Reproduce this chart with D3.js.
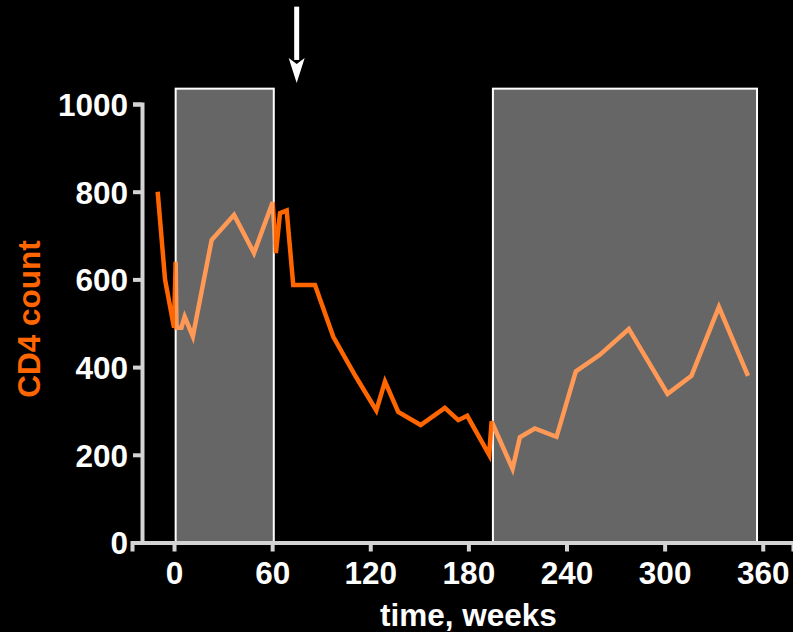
<!DOCTYPE html>
<html>
<head>
<meta charset="utf-8">
<script src="https://cdn.jsdelivr.net/npm/d3@7"></script>
<style>
  html, body { margin: 0; padding: 0; background: #000; }
  svg { display: block; }
  text { font-family: "Liberation Sans", Arial, sans-serif; font-weight: bold; }
</style>
</head>
<body>
<svg id="chart" width="793" height="632"></svg>
<script>
// ---- data ----
const weeks = [-10, -5.5, 0, 1, 1.5, 4.5, 6.5, 11.5, 23, 36.7, 48.9, 60.3, 62.3, 64.8, 68.9, 72.9, 86.2,
  97.4, 111.2, 123.7, 129, 137.1, 150.8, 165.6, 173.8, 179.3, 192.7, 194.2, 207, 211.5, 220.6, 233.9,
  245.7, 260.4, 278.1, 301.8, 316.4, 333.2, 351];
const cd4 = [800, 600, 490, 640, 490, 490, 515, 470, 690, 747, 660, 776, 660, 751, 757, 587, 587,
  469, 378, 301, 367, 298, 268, 307, 279, 289, 200, 276, 168, 240, 260, 241,
  390, 428, 487, 339, 380, 537, 380];
const shadeStart = [1, 195];
const shadeEnd = [61, 356.5];
const shadeTop = 1035;
const xTicks = [0, 60, 120, 180, 240, 300, 360];
const yTicks = [0, 200, 400, 600, 800, 1000];
const arrowWeek = 75, arrowTop = 1222, arrowTip = 1048;
const xTitle = "time, weeks";
const yTitle = "CD4 count";

// ---- colours ----
const DARK = "#ff6600", LIGHT = "#ff9955", AXIS = "#d4d4d4";
const FS = 31.5;

const svg = d3.select("#chart");
const x = d3.scaleLinear().domain([-25.7, 378.5]).range([132, 793]);
const y = d3.scaleLinear().domain([0, 1000]).range([542.5, 104]);

const shades = shadeStart.map((s, i) => ({ s, e: shadeEnd[i] }));
const defs = svg.append("defs");
const clip = defs.append("clipPath").attr("id", "inShade");
clip.selectAll("rect").data(shades).join("rect")
  .attr("x", d => x(d.s)).attr("width", d => x(d.e) - x(d.s))
  .attr("y", y(shadeTop)).attr("height", y(0) - y(shadeTop));
const mask = defs.append("mask").attr("id", "outShade");
mask.append("rect").attr("x", 0).attr("y", 0).attr("width", 793).attr("height", 632).attr("fill", "#fff");
mask.selectAll("rect.s").data(shades).join("rect").attr("class", "s")
  .attr("x", d => x(d.s)).attr("width", d => x(d.e) - x(d.s))
  .attr("y", y(shadeTop)).attr("height", y(0) - y(shadeTop)).attr("fill", "#000");

// shaded periods
svg.append("g").selectAll("rect").data(shades).join("rect")
  .attr("x", d => x(d.s)).attr("width", d => x(d.e) - x(d.s))
  .attr("y", y(shadeTop)).attr("height", y(0) - y(shadeTop))
  .attr("fill", "#666666").attr("stroke", "#fff").attr("stroke-width", 2);

// axes
const xAxis = svg.append("g").attr("transform", `translate(0,${y(0)})`)
  .call(d3.axisBottom(x).tickValues(xTicks).tickSizeOuter(0).tickSize(9).tickPadding(10).tickFormat(d3.format("d")));
xAxis.select(".domain").attr("stroke", AXIS).attr("stroke-width", 4);
xAxis.selectAll(".tick line").attr("stroke", AXIS).attr("stroke-width", 4);
xAxis.selectAll(".tick text").attr("fill", "#fff").attr("font-size", FS).attr("dy", "0.71em");

const yAxis = svg.append("g").attr("transform", `translate(142,0)`)
  .call(d3.axisLeft(y).tickValues(yTicks).tickSizeOuter(0).tickSize(9).tickPadding(5).tickFormat(d3.format("d")));
yAxis.select(".domain").attr("stroke", AXIS).attr("stroke-width", 4);
yAxis.selectAll(".tick line").attr("stroke", AXIS).attr("stroke-width", 4);
yAxis.selectAll(".tick text").attr("fill", "#fff").attr("font-size", FS).attr("dy", "0.36em");

// line
const pts = weeks.map((w, i) => [w, cd4[i]]);
const line = d3.line().x(d => x(d[0])).y(d => y(d[1]));
svg.append("path").datum(pts).attr("d", line).attr("fill", "none")
  .attr("stroke", DARK).attr("stroke-width", 4.5).attr("stroke-linejoin", "miter").attr("mask", "url(#outShade)");
svg.append("path").datum(pts).attr("d", line).attr("fill", "none")
  .attr("stroke", LIGHT).attr("stroke-width", 4.5).attr("stroke-linejoin", "miter").attr("clip-path", "url(#inShade)");

// arrow
const ax = x(arrowWeek);
const headLen = 25;
svg.append("line").attr("x1", ax).attr("x2", ax)
  .attr("y1", y(arrowTop)).attr("y2", y(arrowTip) - headLen + 2)
  .attr("stroke", "#fff").attr("stroke-width", 5);
svg.append("path")
  .attr("d", `M${ax - 8},${y(arrowTip) - headLen} L${ax},${y(arrowTip) - headLen + 6} L${ax + 8},${y(arrowTip) - headLen} L${ax},${y(arrowTip)} Z`)
  .attr("fill", "#fff");

// titles
svg.append("text").attr("x", (x(0) + x(360)) / 2).attr("y", 626)
  .attr("text-anchor", "middle").attr("fill", "#fff").attr("font-size", FS).text(xTitle);
svg.append("text").attr("transform", `translate(40,${319}) rotate(-90)`)
  .attr("text-anchor", "middle").attr("fill", DARK).attr("font-size", FS).text(yTitle);
</script>
</body>
</html>
